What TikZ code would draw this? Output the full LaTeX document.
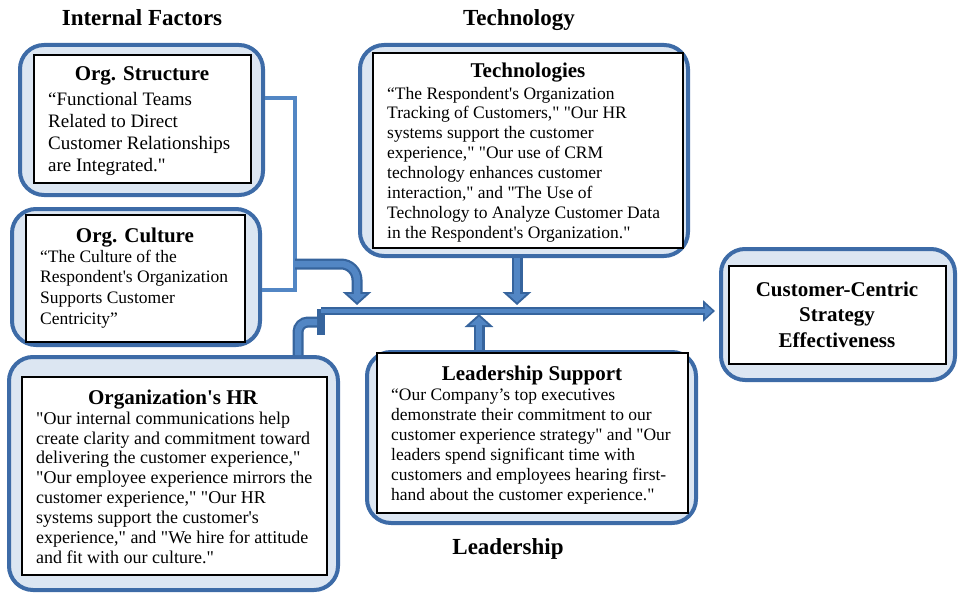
\documentclass[tikz,border=0pt]{standalone}
\usepackage{fontspec}
\setmainfont{Liberation Serif}[Ligatures=TeXOff]
\usetikzlibrary{arrows.meta}
\definecolor{edgeblue}{HTML}{3D6BA7}
\definecolor{fillblue}{HTML}{DCE6F2}
\definecolor{pipeblue}{HTML}{5286C4}
\definecolor{pipedark}{HTML}{36649D}
\tikzset{
  outerbox/.style={draw=edgeblue, line width=4pt, fill=fillblue, rounded corners=24pt, inner sep=0pt},
  innerbox/.style={draw=black, line width=1.3pt, fill=white, inner sep=0pt},
  bodytext/.style={anchor=north west, align=left, inner sep=0pt},
  boxtitle/.style={anchor=base, inner sep=0pt, font=\fontsize{21}{25}\selectfont\bfseries},
  sectitle/.style={anchor=base, inner sep=0pt, font=\fontsize{23}{27}\selectfont\bfseries},
  pipeout/.style={draw=pipedark, line width=11pt},
  pipein/.style={draw=pipeblue, line width=6.5pt},
  headout/.style={-{Triangle[width=28pt,length=13pt,color=pipedark,fill=pipedark]}},
  headin/.style={-{Triangle[width=17.7pt,length=8.3pt,color=pipeblue,fill=pipeblue]}, shorten >=2.7pt},
  thinpipe/.style={draw=pipeblue, line width=4pt},
}
\begin{document}
\begin{tikzpicture}[x=1pt,y=-1pt]
\useasboundingbox (0,0) rectangle (960,596);

% section titles
\node[sectitle] (tInt) at (142,25.6) {Internal Factors};
\node[sectitle] (tTec) at (519,25.6) {Technology};
\node[sectitle] (tLea) at (508,554.6) {Leadership};

% outer boxes
\node[outerbox, minimum width=243pt, minimum height=150pt] (osO) at (141.5,120) {};
\node[outerbox, minimum width=248pt, minimum height=136pt] (ocO) at (136,277) {};
\node[outerbox, minimum width=329pt, minimum height=233pt] (hrO) at (173.5,473.5) {};
\node[outerbox, minimum width=328pt, minimum height=211pt] (tcO) at (524,150.5) {};
\node[outerbox, minimum width=329pt, minimum height=171pt] (ldO) at (531.5,437.5) {};
\node[outerbox, minimum width=234pt, minimum height=131pt] (ccO) at (838,314.5) {};

% inner boxes
\node[innerbox, minimum width=217pt, minimum height=128pt] (osI) at (142.5,119) {};
\node[innerbox, minimum width=219pt, minimum height=127pt] (ocI) at (135.5,278.5) {};
\node[innerbox, minimum width=305pt, minimum height=198pt] (hrI) at (174.5,476) {};
\node[innerbox, minimum width=310pt, minimum height=195pt] (tcI) at (528,150.5) {};
\node[innerbox, minimum width=311pt, minimum height=160pt] (ldI) at (532.5,433) {};
\node[innerbox, minimum width=217pt, minimum height=98pt] (ccI) at (837.5,315) {};

% box titles
\node[boxtitle] (osT) at (142,81) {Org. Structure};
\node[boxtitle] (ocT) at (135,242) {Org. Culture};
\node[boxtitle] (hrT) at (173,404) {Organization's HR};
\node[boxtitle] (tcT) at (528,78) {Technologies};
\node[boxtitle] (ldT) at (532,380) {Leadership Support};
\node[inner sep=0pt, align=center, font=\fontsize{21}{25.5}\selectfont\bfseries] (ccT) at (837,314.5)
  {Customer-Centric\\Strategy\\Effectiveness};

% body texts
\node[bodytext, font=\fontsize{19}{22}\selectfont] (osB) at (48,92.2)
  {“Functional Teams\\Related to Direct\\Customer Relationships\\are Integrated."};
\node[bodytext, font=\fontsize{17.5}{20.7}\selectfont] (ocB) at (40,249.7)
  {“The Culture of the\\Respondent's Organization\\Supports Customer\\Centricity”};
\node[bodytext, font=\fontsize{18}{19.9}\selectfont] (hrB) at (36,411.5)
  {"Our internal communications help\\create clarity and commitment toward\\delivering the customer experience,"\\"Our employee experience mirrors the\\customer experience," "Our HR\\systems support the customer's\\experience," and "We hire for attitude\\and fit with our culture."};
\node[bodytext, font=\fontsize{17.5}{19.9}\selectfont] (tcB) at (387,86.7)
  {“The Respondent's Organization\\Tracking of Customers," "Our HR\\systems support the customer\\experience," "Our use of CRM\\technology enhances customer\\interaction," and "The Use of\\Technology to Analyze Customer Data\\in the Respondent's Organization."};
\node[bodytext, font=\fontsize{17.5}{20}\selectfont] (ldB) at (391,388.7)
  {“Our Company’s top executives\\demonstrate their commitment to our\\customer experience strategy" and "Our\\leaders spend significant time with\\customers and employees hearing first-\\hand about the customer experience."};

% helper coordinates
\coordinate (brTop) at (295,98);
\coordinate (brBot) at (295,290);
\coordinate (brOut) at (295,264);
\coordinate (dropTip) at (357,305);
\coordinate (junc) at (321,311);
\coordinate (hrEnd) at (325,322);
\coordinate (hrUp) at (298,355);
\coordinate (tDown) at (517,305);
\coordinate (lUp) at (479,314);

% bracket joining Org. Structure and Org. Culture
\draw[thinpipe, line join=miter] (osO.east |- brTop) -- (brTop) -- (brBot) -- (ocO.east |- brBot);

% curved arrow from bracket down onto main line
\draw[pipeout, headout, rounded corners=16pt] (brOut) -| (dropTip);
\draw[pipein, headin, rounded corners=16pt] (brOut) -| (dropTip);

% HR connector ending in a bar
\draw[pipeout, rounded corners=10pt, -{Rectangle[length=8pt,width=26pt,color=pipedark,fill=pipedark]}] (hrO.north -| hrUp) |- (hrEnd);
\draw[pipein, rounded corners=10pt, shorten >=8pt] (hrO.north -| hrUp) |- (hrEnd);

% technology down arrow
\draw[pipeout, headout] (tcO.south -| tDown) -- (tDown);
\draw[pipein, headin] (tcO.south -| tDown) -- (tDown);

% leadership up arrow
\draw[pipeout, headout] (ldO.north -| lUp) -- (lUp);
\draw[pipein, headin] (ldO.north -| lUp) -- (lUp);

% main line to outcome
\draw[draw=pipedark, line width=8pt, -{Triangle[width=21pt,length=12pt,color=pipedark,fill=pipedark]}] (junc) -- ([xshift=-4pt]ccO.west |- junc);
\draw[draw=pipeblue, line width=4pt, -{Triangle[width=13pt,length=7.5pt,color=pipeblue,fill=pipeblue]}, shorten >=2.6pt] (junc) -- ([xshift=-4pt]ccO.west |- junc);
\end{tikzpicture}
\end{document}
